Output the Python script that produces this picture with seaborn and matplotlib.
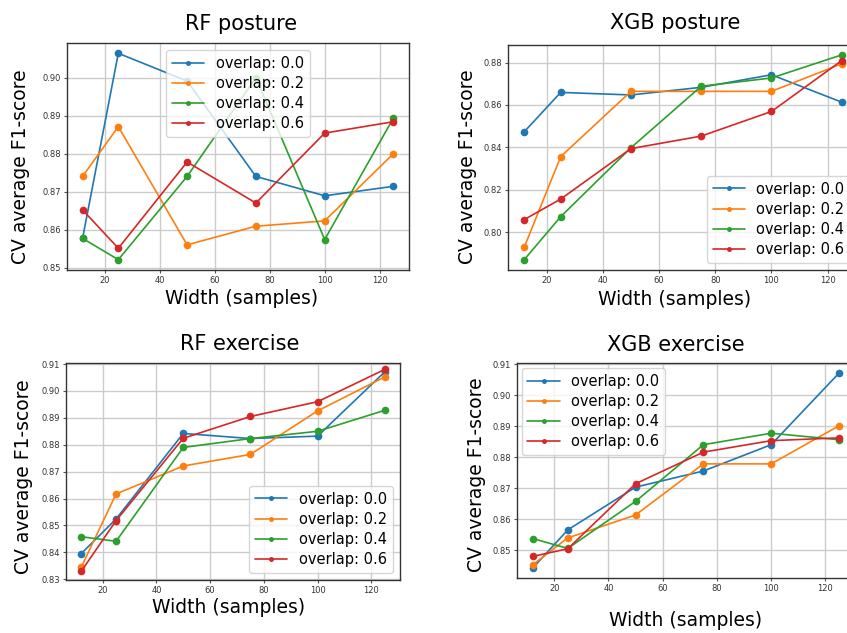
import matplotlib
matplotlib.use('Agg')
import matplotlib.pyplot as plt
import seaborn as sns
from matplotlib.ticker import MultipleLocator

widths = [12, 25, 50, 75, 100, 125]
overlaps = ['0.0', '0.2', '0.4', '0.6']

# CV average F1-score per overlap (rows) and window width (columns)
rf_posture = [
    [0.8577, 0.9064, 0.8991, 0.8740, 0.8689, 0.8714],
    [0.8740, 0.8871, 0.8560, 0.8609, 0.8623, 0.8800],
    [0.8577, 0.8521, 0.8740, 0.9000, 0.8574, 0.8894],
    [0.8652, 0.8551, 0.8778, 0.8670, 0.8854, 0.8884],
]
xgb_posture = [
    [0.8473, 0.8659, 0.8647, 0.8683, 0.8742, 0.8613],
    [0.7928, 0.8356, 0.8664, 0.8664, 0.8664, 0.8794],
    [0.7870, 0.8073, 0.8398, 0.8688, 0.8727, 0.8836],
    [0.8059, 0.8156, 0.8394, 0.8453, 0.8569, 0.8809],
]
rf_exercise = [
    [0.8395, 0.8524, 0.8842, 0.8823, 0.8832, 0.9071],
    [0.8344, 0.8617, 0.8721, 0.8764, 0.8926, 0.9052],
    [0.8458, 0.8441, 0.8790, 0.8823, 0.8850, 0.8928],
    [0.8329, 0.8518, 0.8824, 0.8905, 0.8960, 0.9080],
]
xgb_exercise = [
    [0.8442, 0.8566, 0.8704, 0.8756, 0.8841, 0.9072],
    [0.8453, 0.8540, 0.8614, 0.8779, 0.8779, 0.8902],
    [0.8538, 0.8506, 0.8658, 0.8841, 0.8878, 0.8857],
    [0.8480, 0.8505, 0.8715, 0.8817, 0.8854, 0.8863],
]

sns.set_theme(style='whitegrid')
plt.rcParams['font.family'] = ['DejaVu Sans']
plt.rcParams['text.color'] = 'black'
plt.rcParams['axes.labelcolor'] = 'black'
plt.rcParams['axes.edgecolor'] = '#333333'
plt.rcParams['axes.linewidth'] = 1.0
plt.rcParams['grid.color'] = '#cccccc'
plt.rcParams['grid.linewidth'] = 1.0

palette = sns.color_palette('tab10', 4)

fig = plt.figure(figsize=(8.47, 6.33), dpi=100)

# title, data, axes rect, legend loc, y step, title x, title pad, ylabel y, ylabel pad, xlabel x, xlabel pad
panels = [
    ('RF posture', rf_posture, [0.0791, 0.5735, 0.4038, 0.3586], 'upper center', 0.01,
     0.509, 9.4, 0.454, 8.5, 0.509, 3.0),
    ('XGB posture', xgb_posture, [0.6001, 0.5735, 0.4124, 0.3560], 'lower right', 0.02,
     0.477, 11.5, 0.458, 4.5, 0.477, 3.5),
    ('RF exercise', rf_exercise, [0.0779, 0.0837, 0.3943, 0.3433], 'lower right', 0.01,
     0.521, 8.9, 0.474, 5.5, 0.488, 2.0),
    ('XGB exercise', xgb_exercise, [0.6107, 0.0869, 0.3979, 0.3390], 'upper left', 0.01,
     0.469, 8.9, 0.480, 4.5, 0.500, 13.0),
]

for title, scores, rect, loc, ystep, tx, tpad, ly, lpad, xx, xpad in panels:
    ax = fig.add_axes(rect)
    for ov, vals, col in zip(overlaps, scores, palette):
        sns.lineplot(x=widths, y=vals, color=col, marker='o', markersize=5.5,
                     markeredgewidth=0, linewidth=1.2, label=f'overlap: {ov}', ax=ax)
    if title == 'RF exercise':
        ax.set_ylim(0.8297, 0.9105)
    ax.xaxis.set_major_locator(MultipleLocator(20))
    ax.yaxis.set_major_locator(MultipleLocator(ystep))
    ax.grid(True, color='#cccccc', linewidth=1.0)
    ax.tick_params(axis='both', which='major', bottom=True, left=True, length=2.5,
                   width=0.8, pad=2, labelsize=6, labelcolor='#333333', color='#555555')
    ax.set_title(title, fontsize=15, x=tx, pad=tpad)
    ax.set_ylabel('CV average F1-score', fontsize=13.5, y=ly, labelpad=lpad)
    ax.set_xlabel('Width (samples)', fontsize=13.5, x=xx, labelpad=xpad)
    bpad = 0.3 if loc == 'upper left' else 0.5
    ax.legend(loc=loc, fontsize=10.5, markerscale=0.65, labelspacing=0.35,
              borderaxespad=bpad, handlelength=2.2)

fig.savefig('out.png', dpi=100)
